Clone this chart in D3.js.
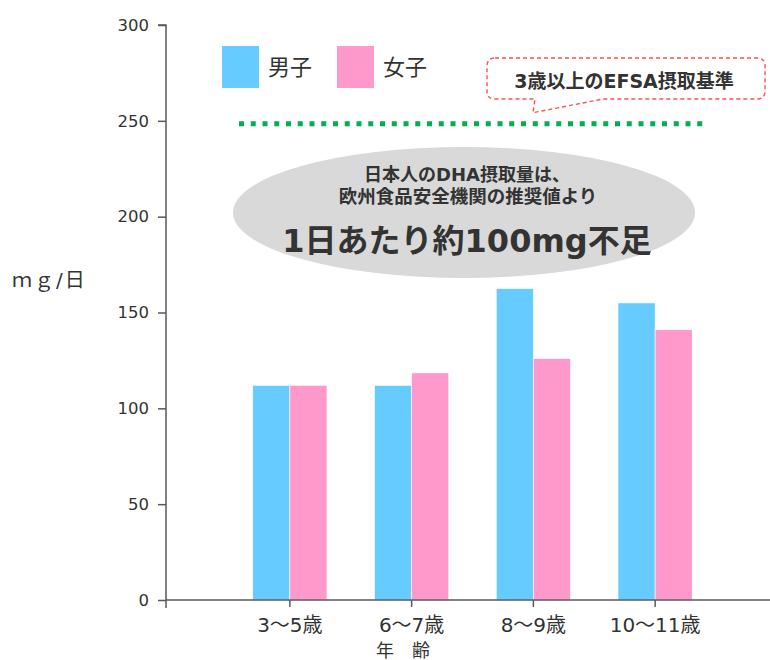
<html>
  <head>
    <meta charset="utf-8">
    <script src="https://cdn.jsdelivr.net/npm/d3@7"></script>
    <style type="text/css">
      body {
        margin: 0;
        padding: 0;
        background: #fff;
      }
      svg text {
        font-family: 'DejaVu Sans', 'Noto Sans CJK JP', sans-serif;
        fill: #333;
      }
      .cjk {
        font-family: 'Noto Sans CJK JP', sans-serif;
      }
    </style>
  </head>
  <body>
    <svg id="chart" width="770" height="660"></svg>

    <script>
      /* data */
      const ages = ['3～5歳', '6～7歳', '8～9歳', '10～11歳']
      const seriesNames = ['男子', '女子']
      const boys = [112, 112, 162.5, 155]
      const girls = [112, 118.5, 126, 141]
      const efsaLevel = [248.5]
      const yTicks = [0, 50, 100, 150, 200, 250, 300]

      const colors = ['#66ccff', '#ff99cc']

      const svg = d3.select('#chart')

      /* scales */
      const y = d3.scaleLinear().domain([0, 300]).range([600, 25])
      const x = d3.scaleBand().domain(ages).range([229, 716])
        .paddingInner(0.39).paddingOuter(0.195)
      const xs = d3.scaleBand().domain(seriesNames).range([0, x.bandwidth()])

      const axisX0 = 166

      /* y axis */
      const yAxis = d3.axisLeft(y).tickValues(yTicks).tickSize(8).tickPadding(9)
      const gy = svg.append('g')
        .attr('transform', `translate(${axisX0},0)`)
        .call(yAxis)
      gy.select('.domain').attr('stroke', '#595959').attr('stroke-width', 1.5)
        .attr('d', `M-8,${y(300)}H0V${y(0)}`)
      gy.selectAll('.tick line').attr('stroke', '#595959').attr('stroke-width', 1.5)
      gy.selectAll('.tick text')
        .style('font-size', '16.5px')
        .attr('fill', '#333')

      /* bars */
      const rows = ages.map((a, i) => ({ age: a, values: [boys[i], girls[i]] }))
      const groups = svg.append('g').selectAll('g')
        .data(rows)
        .join('g')
        .attr('transform', d => `translate(${x(d.age)},0)`)

      groups.selectAll('rect')
        .data(d => d.values.map((v, j) => ({ name: seriesNames[j], v, j })))
        .join('rect')
        .attr('x', d => xs(d.name))
        .attr('width', xs.bandwidth())
        .attr('y', d => y(d.v))
        .attr('height', d => y(0) - y(d.v))
        .attr('fill', d => colors[d.j])
        .attr('stroke', '#fff')
        .attr('stroke-width', 0.6)

      /* x axis */
      const gx = svg.append('g').attr('transform', `translate(0,${y(0)})`)
      gx.append('line')
        .attr('x1', axisX0).attr('x2', 770)
        .attr('stroke', '#595959').attr('stroke-width', 1.5)
      gx.append('line')
        .attr('x1', axisX0).attr('x2', axisX0).attr('y2', 8)
        .attr('stroke', '#595959').attr('stroke-width', 1.5)
      gx.selectAll('.xt')
        .data(ages)
        .join('line')
        .attr('class', 'xt')
        .attr('x1', d => x(d) + x.bandwidth() / 2)
        .attr('x2', d => x(d) + x.bandwidth() / 2)
        .attr('y2', 7)
        .attr('stroke', '#595959').attr('stroke-width', 1.5)
      gx.selectAll('.xl')
        .data(ages)
        .join('text')
        .attr('class', 'xl')
        .attr('x', d => x(d) + x.bandwidth() / 2)
        .attr('y', 32)
        .attr('text-anchor', 'middle')
        .style('font-size', '20px')
        .text(d => d)

      svg.append('text')
        .attr('x', 403).attr('y', 657)
        .attr('text-anchor', 'middle')
        .style('font-size', '18px')
        .text('年　齢')

      svg.append('text')
        .attr('x', 12).attr('y', 287)
        .style('font-size', '20px')
        .style('letter-spacing', '2px')
        .text('ｍｇ/日')

      /* EFSA line */
      svg.append('line')
        .datum(efsaLevel[0])
        .attr('x1', 239).attr('x2', 707)
        .attr('y1', d => y(d)).attr('y2', d => y(d))
        .attr('stroke', '#00b050')
        .attr('stroke-width', 5)
        .attr('stroke-dasharray', '5 6.75')

      /* legend */
      const legend = svg.append('g').selectAll('g')
        .data(seriesNames)
        .join('g')
        .attr('transform', (d, i) => `translate(${222 + i * 115},46)`)
      legend.append('rect')
        .attr('width', 37).attr('height', 42)
        .attr('fill', (d, i) => colors[i])
      legend.append('text')
        .attr('class', 'cjk')
        .attr('x', 46).attr('y', 29)
        .style('font-size', '22px')
        .text(d => d)

      /* callout */
      const bx0 = 487, bx1 = 765, by0 = 58, by1 = 99, r = 8
      const tip = [533, y(efsaLevel[0]) - 11]
      svg.append('path')
        .attr('d', `M${bx0 + r},${by0}H${bx1 - r}Q${bx1},${by0} ${bx1},${by0 + r}V${by1 - r}` +
          `Q${bx1},${by1} ${bx1 - r},${by1}H603L${tip[0]},${tip[1]}L535,${by1}H${bx0 + r}` +
          `Q${bx0},${by1} ${bx0},${by1 - r}V${by0 + r}Q${bx0},${by0} ${bx0 + r},${by0}Z`)
        .attr('fill', '#fff')
        .attr('stroke', '#ff5050')
        .attr('stroke-width', 1.4)
        .attr('stroke-dasharray', '4 3')
      svg.append('text')
        .attr('x', 624).attr('y', 88)
        .attr('text-anchor', 'middle')
        .style('font-size', '19px')
        .style('font-weight', 'bold')
        .attr('fill', '#222')
        .text('3歳以上のEFSA摂取基準')

      /* ellipse note */
      svg.append('ellipse')
        .attr('cx', 464).attr('cy', 212.5)
        .attr('rx', 231).attr('ry', 65.5)
        .attr('fill', '#d9d9d9')
      const note = svg.append('g').attr('text-anchor', 'middle')
      note.append('text')
        .attr('x', 467).attr('y', 181)
        .style('font-size', '18px').style('font-weight', 'bold')
        .attr('fill', '#222')
        .text('日本人のDHA摂取量は、')
      note.append('text')
        .attr('x', 468).attr('y', 203)
        .style('font-size', '18.5px').style('font-weight', 'bold')
        .attr('fill', '#222')
        .text('欧州食品安全機関の推奨値より')
      note.append('text')
        .attr('x', 467).attr('y', 252)
        .style('font-size', '32px').style('font-weight', 'bold')
        .attr('fill', '#111')
        .text('1日あたり約100mg不足')
    </script>
  </body>
</html>
